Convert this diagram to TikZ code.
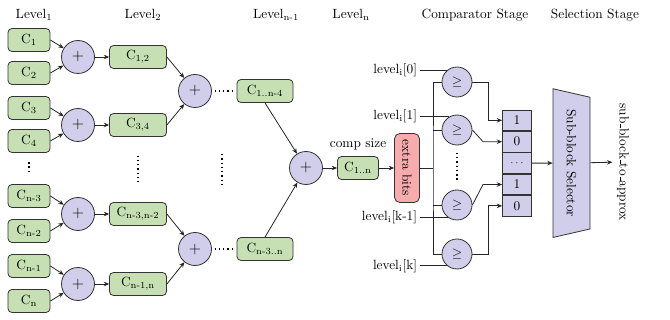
\documentclass[tikz,border=0pt]{standalone}
\usepackage{tikz}
\usetikzlibrary{arrows.meta,positioning,calc,shapes.geometric}
\definecolor{cellgreen}{RGB}{198,224,180}
\definecolor{oplav}{RGB}{208,206,234}
\definecolor{bitred}{RGB}{246,172,172}
\newcommand{\uscore}{\leavevmode\kern.06em\vbox{\hrule width.3em}}

\begin{document}
\begin{tikzpicture}[
  x=0.75pt, y=-0.75pt,
  cbox/.style={draw=black!80, line width=0.6pt, rounded corners=3pt, fill=cellgreen, minimum width=31.5pt, minimum height=17.25pt, inner sep=1pt},
  addop/.style={circle, draw=black!80, line width=0.6pt, fill=oplav, minimum size=24.75pt, inner sep=0pt, font=\large},
  cmpop/.style={circle, draw=black!80, line width=0.6pt, fill=oplav, minimum size=22.5pt, inner sep=0pt},
  bitcell/.style={draw=black!80, line width=0.6pt, fill=oplav, minimum width=21.75pt, minimum height=15.45pt, inner sep=0pt},
  lvl/.style={anchor=east, inner sep=2pt},
  arr/.style={-{Stealth[length=4pt,width=3.4pt]}, line width=0.6pt, draw=black!85},
  wire/.style={line width=0.6pt, draw=black!85},
  vdots/.style={line width=1.3pt, dash pattern=on 1pt off 2.2pt},
]
\useasboundingbox (0,0) rectangle (670,320);

% headings
\node (h1) at (34,15) {Level\textsubscript{1}};
\node (h2) at (143,15) {Level\textsubscript{2}};
\node (h3) at (276,15) {Level\textsubscript{n-1}};
\node (h4) at (351,15) {Level\textsubscript{n}};
\node (h5) at (475,15) {Comparator Stage};
\node (h6) at (595,15) {Selection Stage};

% level 1
\node[cbox] (c1) at (29,40) {C\textsubscript{1}};
\node[cbox] (c2) at (29,73) {C\textsubscript{2}};
\node[cbox] (c3) at (29,108) {C\textsubscript{3}};
\node[cbox] (c4) at (29,141) {C\textsubscript{4}};
\node[cbox] (cn3) at (29,196) {C\textsubscript{n-3}};
\node[cbox] (cn2) at (29,231) {C\textsubscript{n-2}};
\node[cbox] (cn1) at (29,266) {C\textsubscript{n-1}};
\node[cbox] (cn) at (29,301) {C\textsubscript{n}};

\node[addop] (a12) at (78,57) {$+$};
\node[addop] (a34) at (78,125) {$+$};
\node[addop] (an32) at (78,214) {$+$};
\node[addop] (an10) at (78,284) {$+$};

% level 2
\node[cbox, minimum width=42.75pt] (c12) at (138,57) {C\textsubscript{1,2}};
\node[cbox, minimum width=42.75pt] (c34) at (138,125) {C\textsubscript{3,4}};
\node[cbox, minimum width=42.75pt] (cn3n2) at (138,214) {C\textsubscript{n-3,n-2}};
\node[cbox, minimum width=42.75pt] (cn1n) at (138,284) {C\textsubscript{n-1,n}};

\node[addop] (b14) at (195,91) {$+$};
\node[addop] (bn3n) at (195,249) {$+$};

% level n-1 and n
\node[cbox, minimum width=42pt] (c1n4) at (265,91) {C\textsubscript{1..n-4}};
\node[cbox, minimum width=42pt] (cn3nn) at (265,249) {C\textsubscript{n-3..n}};
\node[addop] (an) at (306,168) {$+$};
\node[cbox, minimum width=30.75pt] (call) at (358,168) {C\textsubscript{1..n}};
\node[above=1pt of call] (csize) {comp size};
\node[draw=black!80, line width=0.6pt, fill=bitred, rounded corners=4pt, rotate=-90,
      minimum width=51.75pt, minimum height=18.75pt, inner sep=2pt] (bits) at (407,168) {extra bits};

\draw[arr] (c1.east) -- (a12);
\draw[arr] (c2.east) -- (a12);
\draw[arr] (c3.east) -- (a34);
\draw[arr] (c4.east) -- (a34);
\draw[arr] (cn3.east) -- (an32);
\draw[arr] (cn2.east) -- (an32);
\draw[arr] (cn1.east) -- (an10);
\draw[arr] (cn.east) -- (an10);
\draw[arr] (a12) -- (c12);
\draw[arr] (a34) -- (c34);
\draw[arr] (an32) -- (cn3n2);
\draw[arr] (an10) -- (cn1n);
\draw[arr] (c12.east) -- (b14);
\draw[arr] (c34.east) -- (b14);
\draw[arr] (cn3n2.east) -- (bn3n);
\draw[arr] (cn1n.east) -- (bn3n);
\draw[vdots, shorten <=2pt, shorten >=2pt] (b14) -- (c1n4);
\draw[vdots, shorten <=2pt, shorten >=2pt] (bn3n) -- (cn3nn);
\draw[arr] (c1n4.south) -- (an);
\draw[arr] (cn3nn.north) -- (an);
\draw[arr] (an) -- (call);
\draw[arr] (call) -- (bits);

\draw[vdots, shorten <=7pt, shorten >=7pt] (c4) -- (cn3);
\draw[vdots, shorten <=14pt, shorten >=14pt] (c34) -- (cn3n2);
\draw[vdots] (222,154) -- (222,185);

% comparators
\node[cmpop] (k0) at (457,82) {$\geq$};
\node[cmpop] (k1) at (457,130) {$\geq$};
\node[cmpop] (k2) at (457,205) {$\geq$};
\node[cmpop] (k3) at (457,254) {$\geq$};
\draw[vdots, shorten <=5.6pt, shorten >=5.6pt] (k1) -- (k2);

\coordinate (labx) at (420,0);
\node[lvl] (l0) at (k0.130 -| labx) {level\textsubscript{i}[0]};
\node[lvl] (l1) at (k1.120 -| labx) {level\textsubscript{i}[1]};
\node[lvl] (l2) at (k2.232 -| labx) {level\textsubscript{i}[k-1]};
\node[lvl] (l3) at (k3.230 -| labx) {level\textsubscript{i}[k]};
\draw[wire] (l0) -- (k0.130);
\draw[wire] (l1) -- (k1.120);
\draw[wire] (l2) -- (k2.232);
\draw[wire] (l3) -- (k3.230);

\coordinate (busx) at (433,168);
\draw[wire] (bits) -- (busx);
\draw[wire] (k0.west) -| (busx) |- (k3.west);
\draw[wire] (k1.west) -- (k1.west -| busx);
\draw[wire] (k2.west) -- (k2.west -| busx);

% register
\node[bitcell] (r0) at (517,120.3) {1};
\node[bitcell, below=0pt of r0] (r1) {0};
\node[bitcell, below=0pt of r1, font=\scriptsize] (r2) {$\cdots$};
\node[bitcell, below=0pt of r2] (r3) {1};
\node[bitcell, below=0pt of r3] (r4) {0};

\coordinate (jog) at (488,0);
\coordinate (kink) at (483,0);
\draw[arr] (k0.east) -- (k0.east -| jog) |- (r0);
\draw[arr] (k1.east) -- (r1 -| kink) -- (r1);
\draw[arr] (k2.east) -- (r3 -| kink) -- (r3);
\draw[arr] (k3.east) -- (k3.east -| jog) |- (r4);

% selection
\coordinate (selx) at (571.5,0);
\node[trapezium, trapezium angle=68, trapezium stretches=true, draw=black!80, line width=0.6pt,
      fill=oplav, minimum width=111.75pt, minimum height=27.75pt, rotate=-90] (sel) at (r2 -| selx) {Sub-block Selector};
\node[rotate=-90] (out) at (623,162) {sub\uscore block\uscore to\uscore approx};
\draw[arr] (r2) -- (sel);
\draw[arr] (sel) -- (out);
\end{tikzpicture}
\end{document}
